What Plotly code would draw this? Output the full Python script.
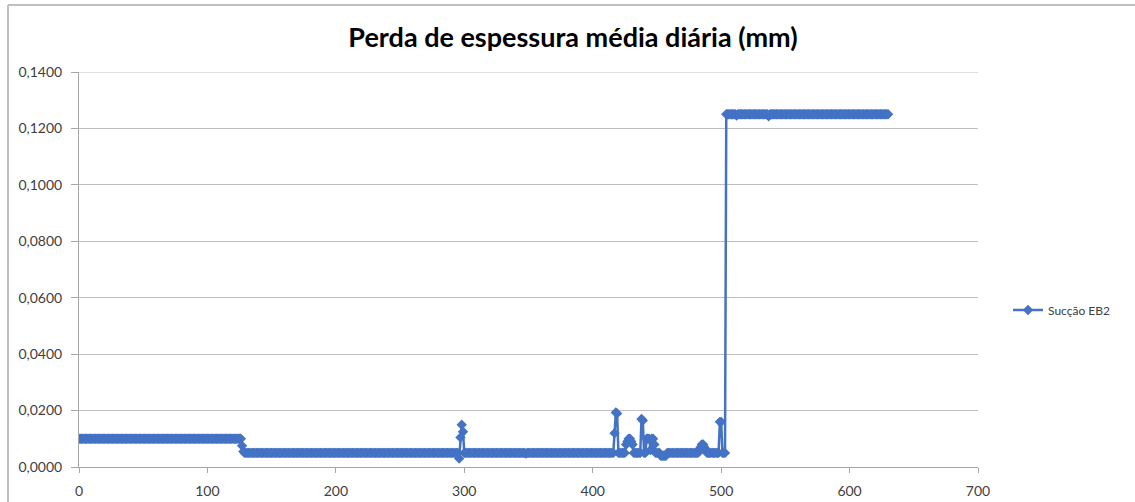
import plotly.graph_objects as go

# Daily average thickness loss, in units of 0.0001 mm (days 0 .. 630)
loss_e4 = [
    # days 0-24
    100, 100, 100, 100, 100, 100, 100, 100, 100, 100, 100, 100, 100, 100, 100, 100, 100, 100, 100, 100, 100, 100, 100, 100, 100,
    # days 25-49
    100, 100, 100, 100, 100, 100, 100, 100, 100, 100, 100, 100, 100, 100, 100, 100, 100, 100, 100, 100, 100, 100, 100, 100, 100,
    # days 50-74
    100, 100, 100, 100, 100, 100, 100, 100, 100, 100, 100, 100, 100, 100, 100, 100, 100, 100, 100, 100, 100, 100, 100, 100, 100,
    # days 75-99
    100, 100, 100, 100, 100, 100, 100, 100, 100, 100, 100, 100, 100, 100, 100, 100, 100, 100, 100, 100, 100, 100, 100, 100, 100,
    # days 100-124
    100, 100, 100, 100, 100, 100, 100, 100, 100, 100, 100, 100, 100, 100, 100, 100, 100, 100, 100, 100, 100, 100, 100, 100, 100,
    # days 125-149
    100, 100, 75, 55, 50, 50, 50, 50, 50, 50, 50, 50, 50, 50, 50, 50, 50, 50, 50, 50, 50, 50, 50, 50, 50,
    # days 150-174
    50, 50, 50, 50, 50, 50, 50, 50, 50, 50, 50, 50, 50, 50, 50, 50, 50, 50, 50, 50, 50, 50, 50, 50, 50,
    # days 175-199
    50, 50, 50, 50, 50, 50, 50, 50, 50, 50, 50, 50, 50, 50, 50, 50, 50, 50, 50, 50, 50, 50, 50, 50, 50,
    # days 200-224
    50, 50, 50, 50, 50, 50, 50, 50, 50, 50, 50, 50, 50, 50, 50, 50, 50, 50, 50, 50, 50, 50, 50, 50, 50,
    # days 225-249
    50, 50, 50, 50, 50, 50, 50, 50, 50, 50, 50, 50, 50, 50, 50, 50, 50, 50, 50, 50, 50, 50, 50, 50, 50,
    # days 250-274
    50, 50, 50, 50, 50, 50, 50, 50, 50, 50, 50, 50, 50, 50, 50, 50, 50, 50, 50, 50, 50, 50, 50, 50, 50,
    # days 275-299
    50, 50, 50, 50, 50, 50, 50, 50, 50, 50, 50, 50, 50, 50, 50, 50, 50, 50, 50, 50, 50, 30, 105, 150, 125,
    # days 300-324
    50, 50, 50, 50, 50, 50, 50, 50, 50, 50, 50, 50, 50, 50, 50, 50, 50, 50, 50, 50, 50, 50, 50, 50, 50,
    # days 325-349
    50, 50, 50, 50, 50, 50, 50, 50, 50, 50, 50, 50, 50, 50, 50, 50, 50, 50, 50, 50, 50, 50, 50, 48, 50,
    # days 350-374
    50, 50, 50, 50, 50, 50, 50, 50, 50, 50, 50, 50, 50, 50, 50, 50, 50, 50, 50, 50, 50, 50, 50, 50, 50,
    # days 375-399
    50, 50, 50, 50, 50, 50, 50, 50, 50, 50, 50, 50, 50, 50, 50, 50, 50, 50, 50, 50, 50, 50, 50, 50, 50,
    # days 400-424
    50, 50, 50, 50, 50, 50, 50, 50, 50, 50, 50, 50, 50, 50, 50, 50, 50, 120, 193, 190, 50, 50, 50, 50, 50,
    # days 425-449
    50, 80, 90, 100, 100, 90, 80, 50, 50, 50, 50, 50, 50, 170, 165, 50, 50, 100, 100, 100, 60, 100, 100, 80, 50,
    # days 450-474
    50, 50, 50, 40, 40, 40, 40, 40, 50, 50, 50, 50, 50, 50, 50, 50, 50, 50, 50, 50, 50, 50, 50, 50, 50,
    # days 475-499
    50, 50, 50, 50, 50, 50, 50, 50, 60, 70, 80, 80, 70, 60, 50, 50, 50, 50, 50, 50, 50, 50, 50, 50, 160,
    # days 500-524
    160, 50, 50, 50, 1250, 1250, 1250, 1250, 1250, 1250, 1250, 1250, 1246, 1250, 1250, 1250, 1250, 1250, 1250, 1250, 1250, 1250, 1250, 1250, 1250,
    # days 525-549
    1250, 1250, 1250, 1250, 1250, 1250, 1250, 1250, 1250, 1250, 1250, 1250, 1243, 1250, 1250, 1250, 1250, 1250, 1250, 1250, 1250, 1250, 1250, 1250, 1250,
    # days 550-574
    1250, 1250, 1250, 1250, 1250, 1250, 1250, 1250, 1250, 1250, 1250, 1250, 1250, 1250, 1250, 1250, 1250, 1250, 1250, 1250, 1250, 1250, 1250, 1250, 1250,
    # days 575-599
    1250, 1250, 1250, 1250, 1250, 1250, 1250, 1250, 1250, 1250, 1250, 1250, 1250, 1250, 1250, 1250, 1250, 1250, 1250, 1250, 1250, 1250, 1250, 1250, 1250,
    # days 600-624
    1250, 1250, 1250, 1250, 1250, 1250, 1250, 1250, 1250, 1250, 1250, 1250, 1250, 1250, 1250, 1250, 1250, 1250, 1250, 1250, 1250, 1250, 1250, 1250, 1250,
    # days 625-630
    1250, 1250, 1250, 1250, 1250, 1250,
]

day = list(range(len(loss_e4)))
loss_mm = [v / 10000 for v in loss_e4]

series_name = "Sucção EB2"
title_text = "Perda de espessura média diária (mm)"
x_ticks = [0, 100, 200, 300, 400, 500, 600, 700]
y_ticks = [0.0, 0.02, 0.04, 0.06, 0.08, 0.10, 0.12, 0.14]

BLUE = "#4472C4"
AXIS = "#A6A6A6"
GRID = "#BFBFBF"
FONT = "Lato, 'Noto Sans', sans-serif"

W, H = 1135, 502
L, R, T, B = 79, 157, 72, 35
plot_w = W - L - R
plot_h = H - T - B

fig = go.Figure()
fig.add_trace(go.Scatter(
    x=day, y=loss_mm, name=series_name, mode="lines+markers",
    line=dict(color=BLUE, width=2.5),
    marker=dict(symbol="diamond", size=8, color=BLUE),
))


def px_x(p):
    return (p - L) / plot_w


def px_y(p):
    return (H - B - p) / plot_h


# outer chart frame (left and top edges)
frame = dict(color="#BFBFBF", width=2)
fig.add_shape(type="line", xref="paper", yref="paper",
              x0=px_x(8), x1=px_x(1140), y0=px_y(5), y1=px_y(5), line=frame)
fig.add_shape(type="line", xref="paper", yref="paper",
              x0=px_x(8), x1=px_x(8), y0=px_y(5), y1=px_y(510), line=frame)

fig.update_layout(
    width=W, height=H,
    margin=dict(l=L, r=R, t=T, b=B, autoexpand=False),
    paper_bgcolor="white", plot_bgcolor="white",
    separators=",.",
    font=dict(family=FONT, size=14, color="#404040"),
    title=dict(text=f"<b>{title_text}</b>", x=(573 / W), xanchor="center",
               y=1 - 38 / H, yanchor="middle",
               font=dict(family=FONT, size=27, color="#000000")),
    showlegend=True,
    legend=dict(x=px_x(1008), xanchor="left", y=px_y(310), yanchor="middle",
                font=dict(family=FONT, size=12, color="#404040"),
                bgcolor="rgba(0,0,0,0)"),
    xaxis=dict(range=[0, 700], tickvals=x_ticks, showgrid=False, zeroline=False,
               showline=True, linecolor=AXIS, linewidth=1, automargin=False,
               ticks="outside", ticklen=5, tickcolor=AXIS, ticklabelstandoff=6),
    yaxis=dict(range=[0, 0.14], tickvals=y_ticks, tickformat=".4f",
               showgrid=True, gridcolor=GRID, gridwidth=1, zeroline=False,
               showline=True, linecolor=AXIS, linewidth=1, automargin=False,
               ticks="outside", ticklen=7, tickcolor=AXIS, ticklabelstandoff=6),
)
# top gridline across the full width
fig.add_shape(type="line", xref="paper", yref="y", x0=0, x1=1, y0=0.14, y1=0.14,
              line=dict(color=GRID, width=1))

fig.write_html("out.html")
